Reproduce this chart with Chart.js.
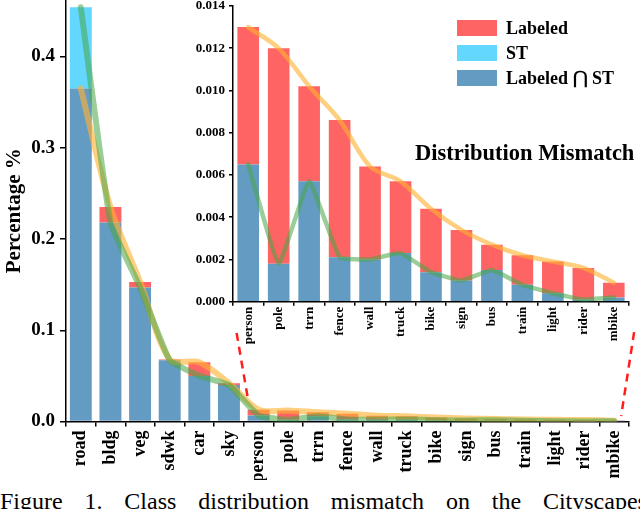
<!DOCTYPE html>
<html>
<head>
<meta charset="utf-8">
<script src="https://cdn.jsdelivr.net/npm/chart.js@4.4.1/dist/chart.umd.min.js"></script>
<style>
  html, body { margin: 0; padding: 0; background: #fff; width: 640px; height: 509px; overflow: hidden; }
  #wrap { position: relative; width: 640px; height: 509px; font-family: "Liberation Serif", "Times New Roman", serif; }
  #mainC { position: absolute; left: 0; top: 0; }
  #insetC { position: absolute; left: 170px; top: 0; }
  .leg { position: absolute; left: 457px; height: 16px; display: flex; align-items: center; }
  .leg .box { width: 40px; height: 16px; margin-right: 9px; box-sizing: border-box; }
  .leg .txt { font-weight: bold; font-size: 18px; color: #000; white-space: nowrap; }
  #title { position: absolute; left: 415px; top: 139px; font-weight: bold; font-size: 22.5px; color: #000; white-space: nowrap; line-height: 28px; }
  #caption { position: absolute; left: 0; top: 489px; width: 647px; height: 24px; display: flex; justify-content: space-between; font-size: 24px; line-height: 24px; color: #000; white-space: nowrap; }
</style>
</head>
<body>
<div id="wrap">
  <canvas id="mainC" width="640" height="480" style="width:640px;height:480px"></canvas>
  <canvas id="insetC" width="470" height="350" style="width:470px;height:350px"></canvas>
  <div id="legend"></div>
  <div id="title">Distribution Mismatch</div>
  <div id="caption"></div>
</div>
<script>
// ---- data ----
const categories = ['road','bldg','veg','sdwk','car','sky','person','pole','trrn','fence','wall','truck','bike','sign','bus','train','light','rider','mbike'];
const labeledShare = [0.365, 0.235, 0.153, 0.068, 0.065, 0.042, 0.0130, 0.0120, 0.0102, 0.0086, 0.0064, 0.0057, 0.0044, 0.0034, 0.0027, 0.0022, 0.0019, 0.0016, 0.0009];
const stShare      = [0.454, 0.218, 0.147, 0.067, 0.050, 0.040, 0.0065, 0.0018, 0.0057, 0.0021, 0.0020, 0.0023, 0.0014, 0.0010, 0.0015, 0.0008, 0.0004, 0.0001, 0.0002];
const insetStart = 6; // inset shows 'person' .. 'mbike'
const legendLabels = ['Labeled', 'ST', 'Labeled \u22C2 ST'];
const captionWords = ['Figure', '1.', 'Class', 'distribution', 'mismatch', 'on', 'the', 'Cityscapes'];

// ---- styles ----
const RED = 'rgb(255,100,100)';
const CYAN = 'rgb(100,215,255)';
const BLUE = 'rgb(100,155,195)';
const ORANGE = 'rgba(255,178,50,0.62)';
const GREEN = 'rgba(70,165,70,0.55)';
const FONT = '"Liberation Serif", "Times New Roman", serif';

const overlap = labeledShare.map((v, i) => Math.min(v, stShare[i]));
const labeledOnly = labeledShare.map((v, i) => Math.max(0, v - stShare[i]));
const stOnly = stShare.map((v, i) => Math.max(0, v - labeledShare[i]));

function buildDatasets(from, lineW, barPct) {
  const s = a => a.slice(from);
  const bar = (data, color) => ({ type: 'bar', data: s(data), backgroundColor: color, stack: 'bars', order: 3, barPercentage: barPct, categoryPercentage: 1 });
  return [
    bar(overlap, BLUE),
    bar(labeledOnly, RED),
    bar(stOnly, CYAN),
    { type: 'line', data: s(labeledShare), borderColor: ORANGE, borderWidth: lineW, pointRadius: 0, tension: 0.3, stack: 'l1', order: 2, fill: false, borderCapStyle: 'round', borderJoinStyle: 'round' },
    { type: 'line', data: s(stShare), borderColor: GREEN, borderWidth: lineW, pointRadius: 0, tension: 0.1, stack: 'l2', order: 1, fill: false, borderCapStyle: 'round', borderJoinStyle: 'round' }
  ];
}

const axisCommon = (tickLen) => ({
  grid: { display: true, drawOnChartArea: false, drawTicks: true, tickLength: tickLen, color: '#000', lineWidth: 1.5 },
  border: { display: true, color: '#000', width: 1.5 }
});

// dashed "zoom" connector lines, anchored to the main chart's scales
const connector = {
  id: 'connector',
  afterDatasetsDraw(chart) {
    const x = chart.scales.x, y = chart.scales.y, ctx = chart.ctx;
    ctx.save();
    ctx.strokeStyle = 'rgb(255,30,30)';
    ctx.lineWidth = 2.5;
    ctx.setLineDash([8, 6]);
    ctx.beginPath();
    ctx.moveTo(x.getPixelForValue(insetStart) - 22, y.getPixelForValue(0.097));
    ctx.lineTo(x.getPixelForValue(insetStart) - 11, y.getPixelForValue(0.027));
    ctx.moveTo(x.getPixelForValue(categories.length - 1) + 20, y.getPixelForValue(0.098));
    ctx.lineTo(x.getPixelForValue(categories.length - 1) + 7, y.getPixelForValue(0.006));
    ctx.stroke();
    ctx.restore();
  }
};

new Chart(document.getElementById('mainC'), {
  data: { labels: categories, datasets: buildDatasets(0, 6, 0.74) },
  options: {
    responsive: false, animation: false,
    layout: { padding: { left: 0, right: 10, top: 0, bottom: 0 } },
    plugins: { legend: { display: false }, tooltip: { enabled: false } },
    scales: {
      x: Object.assign(axisCommon(5), {
        type: 'category', offset: true, stacked: true,
        ticks: { color: '#000', font: { family: FONT, size: 18, weight: 'bold' }, maxRotation: 90, minRotation: 90, padding: 4, autoSkip: false },
        afterFit(s) { s.height = 58.5; }
      }),
      y: Object.assign(axisCommon(6), {
        stacked: true, min: 0, max: 0.462,
        ticks: { stepSize: 0.1, color: '#000', font: { family: FONT, size: 19, weight: 'bold' }, padding: 5, callback: v => Number(v).toFixed(1) },
        afterBuildTicks(s) { s.ticks = s.ticks.filter(t => Math.abs(t.value * 10 - Math.round(t.value * 10)) < 1e-6); },
        title: { display: true, text: 'Percentage %', color: '#000', font: { family: FONT, size: 21, weight: 'bold' }, padding: { top: 2, bottom: 0 } },
        afterFit(s) { s.width = 66; s.paddingTop = 0; }
      })
    }
  },
  plugins: [connector]
});

new Chart(document.getElementById('insetC'), {
  data: { labels: categories.slice(insetStart), datasets: buildDatasets(insetStart, 4.5, 0.71) },
  options: {
    responsive: false, animation: false,
    layout: { padding: { left: 0, right: 11, top: 6, bottom: 0 } },
    plugins: { legend: { display: false }, tooltip: { enabled: false } },
    scales: {
      x: Object.assign(axisCommon(4), {
        type: 'category', offset: true, stacked: true,
        ticks: { color: '#000', font: { family: FONT, size: 13, weight: 'bold' }, maxRotation: 90, minRotation: 90, padding: 1, autoSkip: false },
        afterFit(s) { s.height = 48.3; }
      }),
      y: Object.assign(axisCommon(4), {
        stacked: true, min: 0, max: 0.014,
        ticks: { stepSize: 0.002, color: '#000', font: { family: FONT, size: 13, weight: 'bold' }, padding: 4, callback: v => Number(v).toFixed(3) },
        afterFit(s) { s.width = 63; s.paddingTop = 0; }
      })
    }
  }
});

// HTML legend and caption
const legendColors = [RED, CYAN, BLUE];
const legend = document.getElementById('legend');
legendLabels.forEach((t, i) => {
  const row = document.createElement('div');
  row.className = 'leg';
  row.style.top = (20 + i * 25) + 'px';
  row.innerHTML = '<div class="box" style="background:' + legendColors[i] + '"></div><div class="txt"></div>';
  row.querySelector('.txt').textContent = t;
  legend.appendChild(row);
});
const cap = document.getElementById('caption');
captionWords.forEach(w => { const sp = document.createElement('span'); sp.textContent = w; cap.appendChild(sp); });
</script>
</body>
</html>
